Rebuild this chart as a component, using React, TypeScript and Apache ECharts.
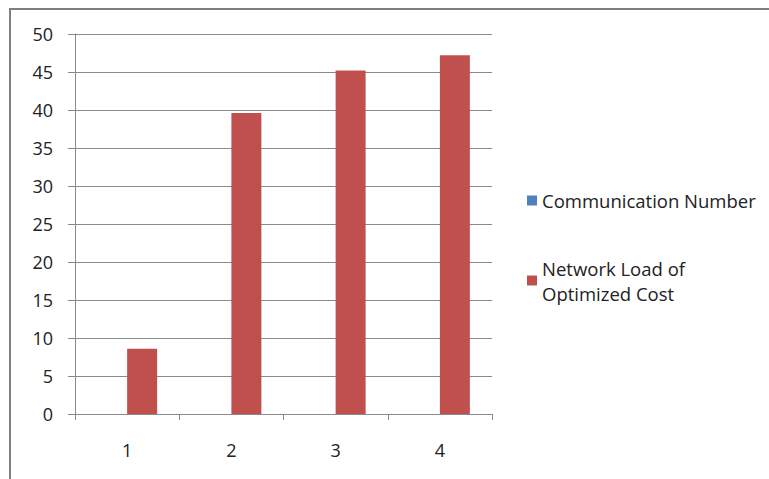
import React, { useEffect, useRef } from "react";
import * as echarts from "echarts";

const categories = ["1", "2", "3", "4"];
const communicationNumber = [0, 0, 0, 0];
const networkLoad = [8.6, 39.6, 45.2, 47.2];
const seriesNames = ["Communication Number", "Network Load of Optimized Cost"];

const FONT = "Open Sans";

export default function App() {
  const ref = useRef<HTMLDivElement>(null);
  useEffect(() => {
    if (!ref.current) return;
    const chart = echarts.init(ref.current, undefined, { renderer: "svg" });
    chart.setOption({
      animation: false,
      backgroundColor: "#ffffff",
      grid: { left: 75, top: 34, right: 277, bottom: 65, containLabel: false },
      legend: [
        {
          data: [seriesNames[0]],
          orient: "vertical",
          left: 527,
          top: 188,
          padding: 0,
          itemWidth: 10,
          itemHeight: 10,
          itemGap: 0,
          icon: "rect",
          textStyle: { fontFamily: FONT, fontSize: 18.5, color: "#222", lineHeight: 25 },
        },
        {
          data: [seriesNames[1]],
          orient: "vertical",
          left: 527,
          top: 243,
          padding: 0,
          itemWidth: 10,
          itemHeight: 10,
          icon: "rect",
          formatter: () => "Network Load of\nOptimized Cost",
          textStyle: {
            fontFamily: FONT,
            fontSize: 18.5,
            color: "#222",
            lineHeight: 25,
            padding: [25, 0, 0, 0],
          },
        },
      ],
      xAxis: {
        type: "category",
        data: categories,
        boundaryGap: true,
        axisLine: { show: true, lineStyle: { color: "#8a8a8a", width: 1 } },
        axisTick: { show: true, length: 6, alignWithLabel: false, lineStyle: { color: "#8a8a8a" } },
        axisLabel: { fontFamily: FONT, fontSize: 18, color: "#222", margin: 27 },
      },
      yAxis: {
        type: "value",
        min: 0,
        max: 50,
        interval: 5,
        axisLine: { show: true, lineStyle: { color: "#8a8a8a", width: 1 } },
        axisTick: { show: true, length: 7, lineStyle: { color: "#8a8a8a" } },
        splitLine: { show: true, lineStyle: { color: "#8a8a8a", width: 1 } },
        axisLabel: { fontFamily: FONT, fontSize: 18, color: "#222", margin: 22 },
      },
      series: [
        {
          name: seriesNames[0],
          type: "bar",
          data: communicationNumber,
          barWidth: 30,
          barGap: "0%",
          itemStyle: { color: "#4F81BD" },
        },
        {
          name: seriesNames[1],
          type: "bar",
          data: networkLoad,
          barWidth: 30,
          barGap: "0%",
          itemStyle: { color: "#C0504D" },
        },
      ],
      graphic: [
        {
          type: "rect",
          shape: { x: 10, y: 9, width: 800, height: 500 },
          style: { fill: "none", stroke: "#7f7f7f", lineWidth: 2 },
          silent: true,
        },
      ],
    });
    return () => chart.dispose();
  }, []);
  return (
    <div
      ref={ref}
      style={{ position: "absolute", left: 0, top: 0, width: 769, height: 479 }}
    />
  );
}
